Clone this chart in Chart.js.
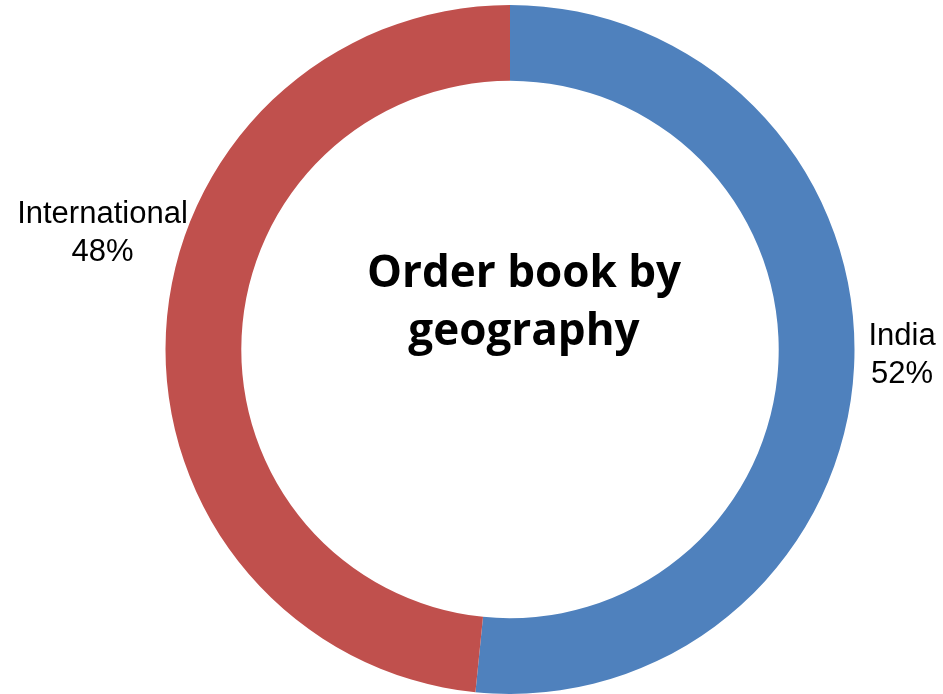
<!DOCTYPE html>
<html>
<head>
<meta charset="utf-8">
<script src="https://cdn.jsdelivr.net/npm/chart.js@4.4.1/dist/chart.umd.min.js"></script>
<style>
  html, body { margin: 0; padding: 0; background: #fff; }
  #wrap { width: 943px; height: 694px; position: relative; }
</style>
</head>
<body>
<div id="wrap"><canvas id="geoChart" width="943" height="694"></canvas></div>
<script>
const regions = ['India', 'International'];
const shares = [51.6, 48.4];
const colors = ['#4F81BD', '#C0504D'];
const centerTitle = ['Order book by', 'geography'];

// data labels, placed relative to the ring centre / outer radius
const labelPos = [
  { dx: 1.138, dy: -0.012 },  // India
  { dx: -1.183, dy: -0.368 }  // International
];

const labelsPlugin = {
  id: 'ringLabels',
  afterDraw(chart) {
    const meta = chart.getDatasetMeta(0);
    const arc = meta.data[0];
    if (!arc) return;
    const cx = arc.x, cy = arc.y, r = arc.outerRadius;
    const ctx = chart.ctx;
    ctx.save();
    ctx.fillStyle = '#000';
    ctx.textAlign = 'center';
    ctx.textBaseline = 'alphabetic';

    // centre title
    ctx.font = 'bold 44px "Open Sans"';
    ctx.fillText(centerTitle[0], cx + 14, cy - 63);
    ctx.fillText(centerTitle[1], cx + 14, cy - 5);

    // category labels
    ctx.font = '31px "Liberation Sans", Arial';
    regions.forEach((name, i) => {
      const x = cx + labelPos[i].dx * r;
      const y = cy + labelPos[i].dy * r;
      ctx.fillText(name, x, y);
      ctx.fillText(Math.round(shares[i]) + '%', x, y + 38);
    });
    ctx.restore();
  }
};

new Chart(document.getElementById('geoChart'), {
  type: 'doughnut',
  data: {
    labels: regions,
    datasets: [{ data: shares, backgroundColor: colors, borderWidth: 0, hoverOffset: 0 }]
  },
  options: {
    responsive: false, animation: false, cutout: '78%',
    layout: { padding: { left: 165, right: 88, top: 5, bottom: 0 } },
    plugins: { legend: { display: false }, tooltip: { enabled: false } }
  },
  plugins: [labelsPlugin]
});
</script>
</body>
</html>
